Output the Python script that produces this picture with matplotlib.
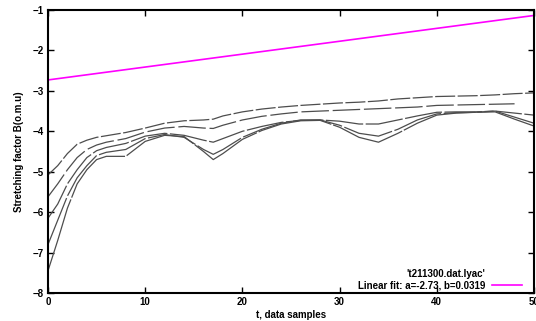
import matplotlib
matplotlib.use("Agg")
import matplotlib.pyplot as plt
from matplotlib.lines import Line2D

plt.rcParams['font.family'] = ['Liberation Sans', 'DejaVu Sans']

t = [0, 1, 2, 3, 4, 5, 6, 8, 10, 12, 14, 16, 17, 18, 20, 22, 24, 26, 28, 30,
     32, 34, 36, 38, 40, 42, 44, 46, 48, 50]

curve_a = [-5.08, -4.85, -4.55, -4.32, -4.22, -4.15, -4.11, -4.03, -3.92, -3.80,
           -3.74, -3.72, -3.70, -3.62, -3.52, -3.45, -3.40, -3.36, -3.33, -3.30,
           -3.28, -3.25, -3.20, -3.17, -3.14, -3.13, -3.12, -3.10, -3.07, -3.05]
curve_b = [-5.62, -5.30, -4.95, -4.65, -4.45, -4.34, -4.27, -4.18, -4.02, -3.92,
           -3.88, -3.92, -3.93, -3.85, -3.72, -3.63, -3.57, -3.52, -3.50, -3.48,
           -3.46, -3.44, -3.42, -3.40, -3.36, -3.35, -3.34, -3.33, -3.32, None]
curve_c = [-6.15, -5.80, -5.30, -4.95, -4.65, -4.48, -4.40, -4.30, -4.12, -4.05,
           -4.10, -4.22, -4.27, -4.18, -4.00, -3.88, -3.78, -3.73, -3.72, -3.75,
           -3.82, -3.82, -3.72, -3.62, -3.53, -3.52, -3.52, -3.50, -3.55, -3.60]
curve_d = [-6.80, -6.20, -5.60, -5.15, -4.85, -4.60, -4.52, -4.45, -4.18, -4.08,
           -4.15, -4.45, -4.57, -4.45, -4.15, -3.95, -3.80, -3.72, -3.72, -3.85,
           -4.05, -4.12, -3.95, -3.72, -3.57, -3.54, -3.53, -3.50, -3.65, -3.80]
curve_e = [-7.45, -6.70, -5.90, -5.30, -4.95, -4.70, -4.62, -4.62, -4.25, -4.10,
           -4.13, -4.50, -4.70, -4.55, -4.20, -3.98, -3.82, -3.74, -3.73, -3.90,
           -4.15, -4.27, -4.05, -3.80, -3.60, -3.55, -3.53, -3.52, -3.70, -3.87]

fit_t = [0, 50]
fit_y = [-2.73, -1.135]

data_label = "'t211300.dat.lyac'"
fit_label = "Linear fit: a=-2.73, b=0.0319"
xlabel = "t, data samples"
ylabel = "Stretching factor B(o.m.u)"
xticks = [0, 10, 20, 30, 40, 50]
yticks = [-8, -7, -6, -5, -4, -3, -2, -1]

fig = plt.figure(figsize=(5.36, 3.21), dpi=100)
ax = fig.add_axes([48/536, 28/321, 486/536, 283/321])

gray = '#4d4d4d'
styles = [(0, (16, 2)), (0, (22, 3)), (0, (30, 2)), (0, (40, 2)), (0, (60, 1.5))]
for ys, ls in zip([curve_a, curve_b, curve_c, curve_d, curve_e], styles):
    tt = [ti for ti, yi in zip(t, ys) if yi is not None]
    yy = [yi for yi in ys if yi is not None]
    ax.plot(tt, yy, color=gray, lw=0.9, linestyle=ls)

ax.plot(fit_t, fit_y, color='#ff00ff', lw=1.2)

ax.set_xlim(0, 50)
ax.set_ylim(-8, -1)
ax.set_xticks(xticks)
ax.set_yticks(yticks)
ax.tick_params(direction='in', length=4, width=1, top=True, right=True,
               labelsize=7, pad=3)
for lab in ax.get_xticklabels() + ax.get_yticklabels():
    lab.set_fontweight('bold')
for s in ax.spines.values():
    s.set_linewidth(1.5)

ax.set_xlabel(xlabel, fontsize=7, fontweight='bold', labelpad=2)
ax.set_ylabel(ylabel, fontsize=7, fontweight='bold', labelpad=6)

# legend (bottom right, text right-aligned, sample on the right)
tx = (485 - 48) / 486
ax.text(tx, (293 - 274) / 283, data_label, transform=ax.transAxes,
        ha='right', va='center', fontsize=7, fontweight='bold')
ax.text(tx, (293 - 285) / 283, fit_label, transform=ax.transAxes,
        ha='right', va='center', fontsize=7, fontweight='bold')
ax.add_line(Line2D([(492 - 48) / 486, (522 - 48) / 486],
                   [(293 - 285) / 283] * 2, transform=ax.transAxes,
                   color='#ff00ff', lw=1.2))

fig.savefig('out.png', dpi=100)
